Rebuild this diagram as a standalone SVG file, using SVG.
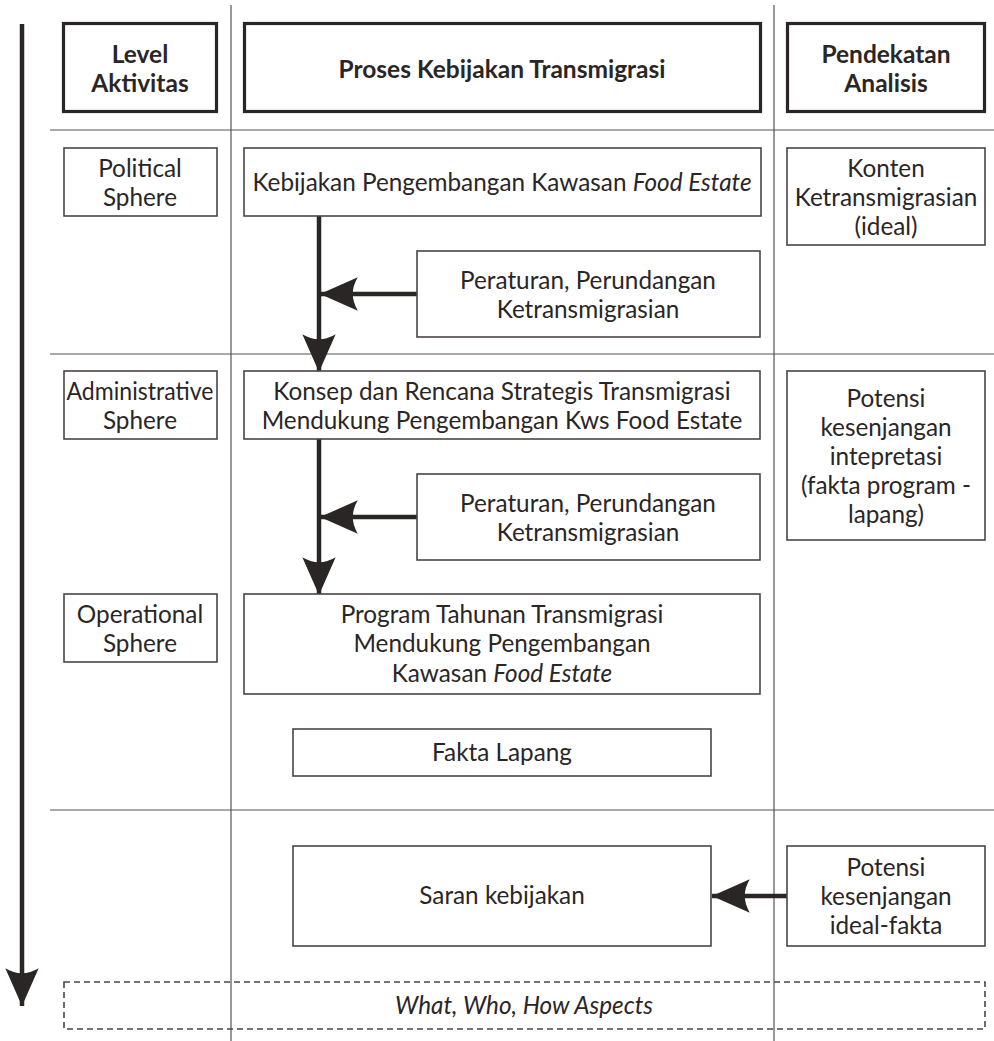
<svg xmlns="http://www.w3.org/2000/svg" width="994" height="1041" viewBox="0 0 994 1041">
<style>
text{font-family:Lato,"Open Sans","Liberation Sans",sans-serif;font-size:24.3px;font-weight:400;fill:#2b2626;text-anchor:middle}
.b{font-weight:bold;font-size:24.5px}
.i{font-style:italic}
.box{fill:#fff;stroke:#4a4545;stroke-width:1.6}
.hbox{fill:#fff;stroke:#2b2626;stroke-width:3.2}
.grid{stroke:#555;stroke-width:1.2;fill:none}
.conn{stroke:#2b2626;stroke-width:4.5;fill:none}
</style>
<defs>
<marker id="ah" markerUnits="userSpaceOnUse" markerWidth="40" markerHeight="40" viewBox="0 0 36 30" refX="34" refY="15" orient="auto">
<path d="M34,15 L0,0 Q9,15 0,30 Z" fill="#2b2626"/>
</marker>
</defs>
<g id="grid">
<line class="grid" x1="231" y1="5" x2="231" y2="1041"/>
<line class="grid" x1="774" y1="5" x2="774" y2="1041"/>
<line class="grid" x1="50" y1="130" x2="994" y2="130"/>
<line class="grid" x1="50" y1="354" x2="994" y2="354"/>
<line class="grid" x1="50" y1="810" x2="994" y2="810"/>
</g>
<g id="connectors">
<line class="conn" x1="22" y1="24" x2="22" y2="1006" marker-end="url(#ah)"/>
<line class="conn" x1="319" y1="216" x2="319" y2="372" marker-end="url(#ah)"/>
<line class="conn" x1="417" y1="294" x2="320" y2="294" marker-end="url(#ah)"/>
<line class="conn" x1="319" y1="439" x2="319" y2="595" marker-end="url(#ah)"/>
<line class="conn" x1="417" y1="517" x2="320" y2="517" marker-end="url(#ah)"/>
<line class="conn" x1="787" y1="896" x2="712" y2="896" marker-end="url(#ah)"/>
</g>
<g id="h-level"><rect class="hbox" x="63.5" y="23.5" width="153" height="88"/><text class="b" x="140" y="63">Level</text><text class="b" x="140" y="92">Aktivitas</text></g>
<g id="h-proses"><rect class="hbox" x="244.5" y="23.5" width="516" height="88"/><text class="b" x="502" y="78">Proses Kebijakan Transmigrasi</text></g>
<g id="h-pendekatan"><rect class="hbox" x="787.5" y="23.5" width="197" height="88"/><text class="b" x="886" y="63">Pendekatan</text><text class="b" x="886" y="92">Analisis</text></g>
<g id="political"><rect class="box" x="64" y="148" width="153" height="68"/><text x="140" y="177">Political</text><text x="140" y="206">Sphere</text></g>
<g id="kebijakan"><rect class="box" x="244" y="148" width="517" height="68"/><text x="502" y="191">Kebijakan Pengembangan Kawasan <tspan class="i">Food Estate</tspan></text></g>
<g id="konten"><rect class="box" x="787" y="148" width="198" height="97"/><text x="886" y="177">Konten</text><text x="886" y="206">Ketransmigrasian</text><text x="886" y="235">(ideal)</text></g>
<g id="peraturan1"><rect class="box" x="417" y="251" width="343" height="86"/><text x="588" y="289">Peraturan, Perundangan</text><text x="588" y="318">Ketransmigrasian</text></g>
<g id="administrative"><rect class="box" x="64" y="371" width="153" height="68"/><text x="140" y="400" textLength="147" lengthAdjust="spacingAndGlyphs">Administrative</text><text x="140" y="429">Sphere</text></g>
<g id="konsep"><rect class="box" x="244" y="371" width="516" height="68"/><text x="502" y="400">Konsep dan Rencana Strategis Transmigrasi</text><text x="502" y="429">Mendukung Pengembangan Kws Food Estate</text></g>
<g id="potensi1"><rect class="box" x="787" y="371" width="198" height="169"/><text x="886" y="407">Potensi</text><text x="886" y="436">kesenjangan</text><text x="886" y="465">intepretasi</text><text x="886" y="494">(fakta program -</text><text x="886" y="523">lapang)</text></g>
<g id="peraturan2"><rect class="box" x="417" y="474" width="343" height="86"/><text x="588" y="512">Peraturan, Perundangan</text><text x="588" y="541">Ketransmigrasian</text></g>
<g id="operational"><rect class="box" x="64" y="594" width="153" height="68"/><text x="140" y="623">Operational</text><text x="140" y="652">Sphere</text></g>
<g id="program"><rect class="box" x="244" y="594" width="516" height="100"/><text x="502" y="623">Program Tahunan Transmigrasi</text><text x="502" y="652">Mendukung Pengembangan</text><text x="502" y="682">Kawasan <tspan class="i">Food Estate</tspan></text></g>
<g id="fakta"><rect class="box" x="293" y="729" width="418" height="47"/><text x="502" y="761">Fakta Lapang</text></g>
<g id="saran"><rect class="box" x="293" y="846" width="418" height="100"/><text x="502" y="904">Saran kebijakan</text></g>
<g id="potensi2"><rect class="box" x="787" y="846" width="198" height="100"/><text x="886" y="876">Potensi</text><text x="886" y="905">kesenjangan</text><text x="886" y="934">ideal-fakta</text></g>
<g id="aspects"><rect x="64" y="982" width="921" height="47" fill="none" stroke="#4a4545" stroke-width="1.6" stroke-dasharray="6,4"/><text class="i" x="524" y="1014">What, Who, How Aspects</text></g>
</svg>
